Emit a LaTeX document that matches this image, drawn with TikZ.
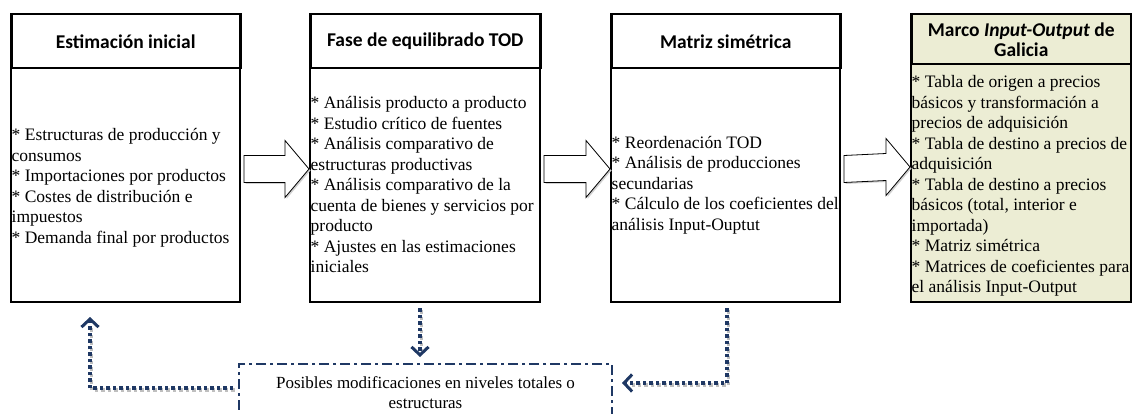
\documentclass[tikz,border=0pt]{standalone}
\usepackage{fontspec}
\setmainfont{Liberation Serif}
\newfontfamily\hdfont{Carlito}
\usetikzlibrary{arrows.meta,calc}
\definecolor{dblue}{RGB}{31,56,100}
\definecolor{khaki}{RGB}{236,237,212}
\tikzset{
  hdbox/.style={draw=black,line width=2.5pt,inner sep=0pt,anchor=north west,align=center,
    font=\hdfont\bfseries\fontsize{19.5}{20}\selectfont},
  bdbox/.style={draw=black,line width=2pt,inner sep=0pt,anchor=north west},
  bdtxt/.style={inner sep=0pt,anchor=west,align=left,font=\fontsize{17.5}{20.5}\selectfont},
  barrow/.style={draw=black,line width=0.8pt,fill=white,line join=miter},
  barshadow/.style={fill=black!18,draw=none},
  conn/.style={draw=dblue,line width=3.5pt,dash pattern=on 3.5pt off 3pt},
  connsh/.style={draw=black!25,line width=3.5pt,dash pattern=on 3.5pt off 3pt,
    transform canvas={shift={(1.5pt,-2pt)}}},
  tipv/.style={-{Straight Barb[length=8pt,width=17pt,line width=3pt]}},
  pmbox/.style={draw=dblue,line width=2pt,dash pattern=on 10pt off 4pt on 3pt off 4pt,
    inner sep=0pt,anchor=north west,align=center,font=\fontsize{17}{20}\selectfont},
}
\newcommand\blockarr[2]{%
  \fill[barshadow] ($(#1.east)+(4.5,-14.5)$) coordinate (s) ++(0,-13.5) -- ($(#2.west)+(-22.5,-14.5-13.5)$) -- ++(0,-15)
    -- ($(#2.west)+(1.5,-14.5)$) -- ($(#2.west)+(-22.5,-14.5+28.5)$) -- ++(0,-15) -- ($(s)+(0,13.5)$) -- cycle;
  \draw[barrow] ($(#1.east)+(3,-16)$) coordinate (s) ++(0,-13.5) -- ($(#2.west)+(-24,-16-13.5)$) -- ++(0,-15)
    -- ($(#2.west)+(0,-16)$) -- ($(#2.west)+(-24,-16+28.5)$) -- ++(0,-15) -- ($(s)+(0,13.5)$) -- cycle;}
\begin{document}
\begin{tikzpicture}[x=1pt,y=-1pt]
\useasboundingbox (0,0) rectangle (1132,414);
\clip (0,0) rectangle (1132,414);
% boxes
\node[bdbox,minimum width=229pt,minimum height=234pt] (b1) at (10,67) {};
\node[hdbox,minimum width=229pt,minimum height=54pt] (h1) at (10,13) {Estimación inicial};
\node[bdbox,minimum width=230pt,minimum height=234pt] (b2) at (309,67) {};
\node[hdbox,minimum width=230pt,minimum height=54pt] (h2) at (309,13) {Fase de equilibrado TOD};
\node[bdbox,minimum width=229pt,minimum height=234pt] (b3) at (610,67) {};
\node[hdbox,minimum width=229pt,minimum height=54pt] (h3) at (610,13) {Matriz simétrica};
\node[bdbox,fill=khaki,minimum width=220pt,minimum height=238pt] (b4) at (910,63) {};
\node[hdbox,fill=khaki,minimum width=220pt,minimum height=50pt] (h4) at (910,13) {Marco \textit{Input-Output} de\\Galicia};
% body texts
\node[bdtxt] (t1) at ($(b1.west)+(1.5,3)$) {* Estructuras de producción y\\consumos\\* Importaciones por productos\\* Costes de distribución e\\impuestos\\* Demanda final por productos};
\node[bdtxt] (t2) at ($(b2.west)+(1.5,0)$) {* Análisis producto a producto\\* Estudio crítico de fuentes\\* Análisis comparativo de\\estructuras productivas\\* Análisis comparativo de la\\cuenta de bienes y servicios por\\producto\\* Ajustes en las estimaciones\\iniciales};
\node[bdtxt] (t3) at ($(b3.west)+(1.5,0)$) {* Reordenación TOD\\* Análisis de producciones\\secundarias\\* Cálculo de los coeficientes del\\análisis Input-Ouptut};
\node[bdtxt] (t4) at ($(b4.west)+(1.5,3)$) {* Tabla de origen a precios\\básicos y transformación a\\precios de adquisición\\* Tabla de destino a precios de\\adquisición\\* Tabla de destino a precios\\básicos (total, interior e\\importada)\\* Matriz simétrica\\* Matrices de coeficientes para\\el análisis Input-Output};
% block arrows
\blockarr{b1}{b2}
\blockarr{b2}{b3}
\blockarr{b3}{b4}
% dashed box
\node[pmbox,minimum width=373pt,minimum height=58pt] (pm) at (238,363) {Posibles modificaciones en niveles totales o\\estructuras};
% dotted connectors
\coordinate (lt) at (90,317);
\draw[connsh] ($(pm.north west)+(-5,25)$) -| ($(lt)+(0,8)$);
\draw[connsh] ($(b2.south)+(-5,5)$) -- ($(pm.north -| b2.south)+(-5,-14)$);
\draw[connsh] ($(b3.south)+(1.5,5)$) |- ($(pm.north east)+(17,20)$);
\draw[conn,tipv] ($(pm.north west)+(-5,25)$) -| (lt);
\draw[conn,tipv] ($(b2.south)+(-5,5)$) -- ($(pm.north -| b2.south)+(-5,-6)$);
\draw[conn,tipv] ($(b3.south)+(1.5,5)$) |- ($(pm.north east)+(9,20)$);
\end{tikzpicture}
\end{document}
